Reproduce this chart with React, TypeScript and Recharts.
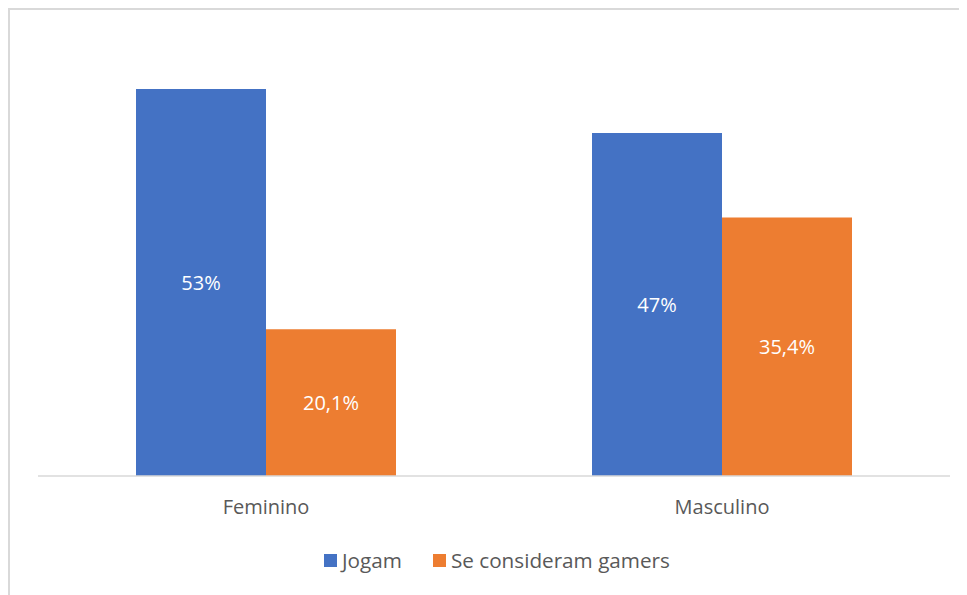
import React from "react";
import {
  BarChart,
  Bar,
  XAxis,
  YAxis,
  Legend,
  LabelList,
} from "recharts";

const categories = ["Feminino", "Masculino"];
const jogam = [53, 47];
const gamers = [20.1, 35.4];
const seriesNames = ["Jogam", "Se consideram gamers"];
const seriesColors = ["#4472C4", "#ED7D31"];

const data = categories.map((name, i) => ({
  name,
  jogam: jogam[i],
  gamers: gamers[i],
}));

const FONT = "'Open Sans', sans-serif";

const pct = (v: number) => `${String(v).replace(".", ",")}%`;

const LegendContent = () => (
  <div
    style={{
      display: "flex",
      justifyContent: "center",
      alignItems: "flex-end",
      height: 54,
      fontFamily: FONT,
      fontSize: 20.7,
      lineHeight: "20px",
      color: "#595959",
      paddingLeft: 6,
    }}
  >
    {seriesNames.map((n, i) => (
      <div
        key={n}
        style={{ display: "flex", alignItems: "center", marginLeft: i ? 31 : 0 }}
      >
        <span
          style={{
            width: 13,
            height: 13,
            background: seriesColors[i],
            display: "inline-block",
            marginRight: 5,
          }}
        />
        <span>{n}</span>
      </div>
    ))}
  </div>
);

const labelStyle = { fill: "#fff", fontSize: 20, fontFamily: FONT };

export default function App() {
  return (
    <div
      style={{
        width: 957,
        height: 585,
        borderTop: "2px solid #d9d9d9",
        borderLeft: "2px solid #d9d9d9",
        background: "#fff",
      }}
    >
      <BarChart
        width={957}
        height={585}
        data={data}
        margin={{ top: 28, right: 17, left: 28, bottom: 25 }}
        barGap={0}
        barCategoryGap={98}
      >
        <XAxis
          dataKey="name"
          height={40}
          tickLine={false}
          tickSize={0}
          tickMargin={24}
          axisLine={{ stroke: "#d9d9d9", strokeWidth: 1.5 }}
          tick={{ fill: "#595959", fontSize: 20, fontFamily: FONT }}
        />
        <YAxis hide domain={[0, 60]} />
        <Legend
          verticalAlign="bottom"
          height={54}
          content={<LegendContent />}
        />
        <Bar
          dataKey="jogam"
          name={seriesNames[0]}
          fill={seriesColors[0]}
          isAnimationActive={false}
        >
          <LabelList dataKey="jogam" position="center" formatter={pct} style={labelStyle} />
        </Bar>
        <Bar
          dataKey="gamers"
          name={seriesNames[1]}
          fill={seriesColors[1]}
          isAnimationActive={false}
        >
          <LabelList dataKey="gamers" position="center" formatter={pct} style={labelStyle} />
        </Bar>
      </BarChart>
    </div>
  );
}
